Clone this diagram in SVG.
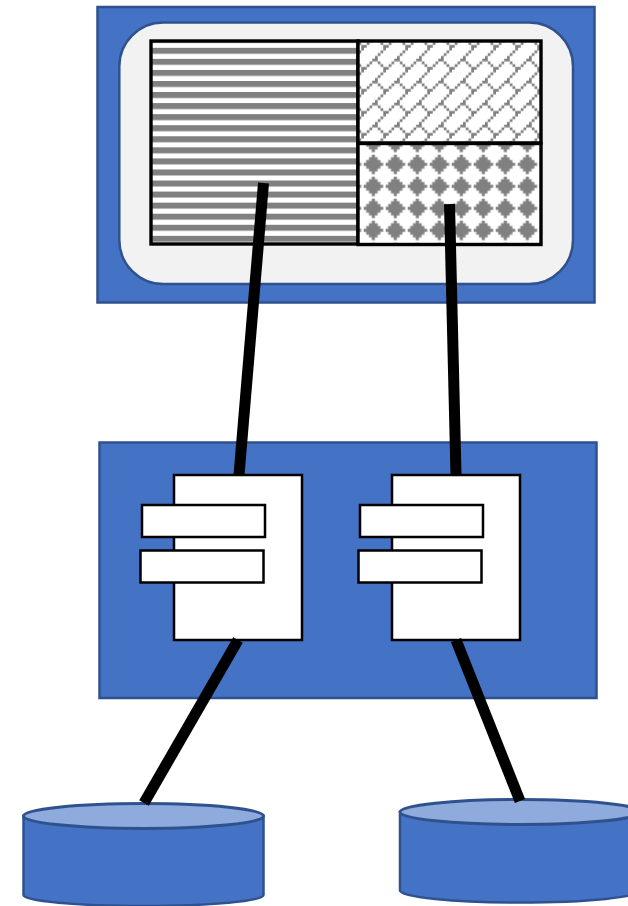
<svg xmlns="http://www.w3.org/2000/svg" width="628" height="906" viewBox="0 0 628 906">
<defs>
<style>
.blue{fill:#4472c4;stroke:#2f528f;stroke-width:2.5}
.top{fill:#8faadc;stroke:#2f528f;stroke-width:3}
.box{fill:#fff;stroke:#000;stroke-width:2.5}
.cell{stroke:#000;stroke-width:3.4}
.wire{stroke:#000;stroke-width:11;fill:none}
</style>
<pattern id="stripes" patternUnits="userSpaceOnUse" x="0" y="47.8" width="11" height="11.06">
<rect width="11" height="11.06" fill="#fff"/><rect width="11" height="6" fill="#808080"/>
</pattern>
<pattern id="trellis" patternUnits="userSpaceOnUse" width="8" height="8" patternTransform="translate(364 47.7) scale(2.75)">
<rect width="8" height="8" fill="#fff"/>
<path d="M7 0h1v1h-1zM6 1h1v1h-1zM5 2h1v1h-1zM4 3h1v1h-1zM3 4h2v1h-2zM2 5h1v1h-1zM5 5h1v1h-1zM1 6h1v1h-1zM6 6h1v1h-1zM0 7h1v1h-1zM7 7h1v1h-1z" fill="#808080"/>
</pattern>
<pattern id="diamonds" patternUnits="userSpaceOnUse" width="8" height="8" patternTransform="translate(363.7 154.7) scale(2.75)">
<rect width="8" height="8" fill="#fff"/>
<path d="M3 0h1v1h1v1h1v1h1v1h-1v1h-1v1h-1v1h-1v-1h-1v-1h-1v-1h-1v-1h1v-1h1v-1h1z" fill="#808080" stroke="#808080" stroke-width=".15"/>
</pattern>
</defs>
<g id="frontend">
<rect class="blue" x="97.500" y="7" width="497" height="295.500"/>
<rect x="119.300" y="22.500" width="453.700" height="261.500" rx="44" fill="#f2f2f2" stroke="#2f528f" stroke-width="2.500"/>
<rect class="cell" x="151" y="41" width="207" height="203" fill="url(#stripes)"/>
<rect class="cell" x="358" y="41" width="183" height="102" fill="url(#trellis)"/>
<rect class="cell" x="358" y="143.500" width="183" height="101" fill="url(#diamonds)"/>
</g>
<g id="server">
<rect class="blue" x="99.500" y="442.500" width="497" height="255.500"/>
</g>
<g id="component-a">
<rect class="box" x="174" y="475" width="128" height="165"/>
<rect class="box" x="142" y="505" width="123" height="32"/>
<rect class="box" x="140.500" y="550.500" width="123" height="32"/>
</g>
<g id="component-b">
<rect class="box" x="392" y="475" width="128" height="165"/>
<rect class="box" x="360" y="505" width="123" height="32"/>
<rect class="box" x="358.500" y="550.500" width="123" height="32"/>
</g>
<g id="database-a">
<path class="blue" d="M23.500 816V895C23.500 901 77 906 143.500 906S263.500 901 263.500 895V816Z"/>
<ellipse class="top" cx="143.500" cy="816" rx="120" ry="12.500"/>
</g>
<g id="database-b">
<path class="blue" d="M400 812V890.500C400 897 454 902.500 520.500 902.500S641 897 641 890.500V812Z"/>
<ellipse class="top" cx="520.500" cy="812" rx="120.500" ry="12.500"/>
</g>
<g id="connectors">
<line class="wire" x1="263.500" y1="183" x2="239" y2="475"/>
<line class="wire" x1="449.500" y1="204" x2="456" y2="475"/>
<line class="wire" x1="238" y1="640" x2="144" y2="803"/>
<line class="wire" x1="456" y1="640" x2="520" y2="801"/>
</g>
</svg>
